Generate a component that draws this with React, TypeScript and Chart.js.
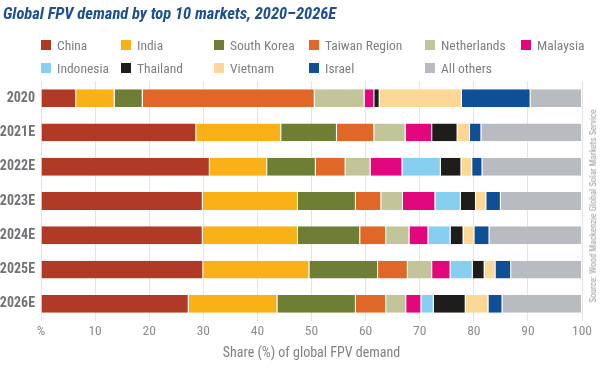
import React, { useEffect, useRef } from "react";
import { Chart, registerables } from "chart.js";

Chart.register(...registerables);

const categories = ["2020", "2021E", "2022E", "2023E", "2024E", "2025E", "2026E"];
const tickLabels = ["%", "10", "20", "30", "40", "50", "60", "70", "80", "90", "100"];

const china = [6.5, 28.7, 31.2, 29.9, 29.9, 30.0, 27.3];
const india = [7.1, 15.7, 10.6, 17.6, 17.6, 19.6, 16.4];
const southKorea = [5.2, 10.3, 9.0, 10.7, 11.5, 12.7, 14.5];
const taiwanRegion = [31.8, 6.9, 5.5, 4.7, 4.8, 5.5, 5.6];
const netherlands = [9.2, 5.8, 4.6, 4.0, 4.3, 4.5, 3.7];
const malaysia = [1.8, 4.9, 5.9, 6.0, 3.5, 3.4, 2.8];
const indonesia = [0, 0, 7.1, 4.7, 4.1, 4.1, 2.3];
const thailand = [1.0, 4.7, 3.8, 2.8, 2.4, 2.2, 5.9];
const vietnam = [15.2, 2.3, 2.0, 1.9, 2.0, 2.0, 4.2];
const israel = [12.7, 2.1, 1.9, 2.7, 2.8, 2.9, 2.6];
const allOthers = [9.5, 18.6, 18.4, 15.0, 17.1, 13.1, 14.7];

const seriesNames = [
  "China", "India", "South Korea", "Taiwan Region", "Netherlands", "Malaysia",
  "Indonesia", "Thailand", "Vietnam", "Israel", "All others",
];
const seriesValues = [
  china, india, southKorea, taiwanRegion, netherlands, malaysia,
  indonesia, thailand, vietnam, israel, allOthers,
];
const seriesColors = [
  "#B03A26", "#F9B117", "#6E7F35", "#E06727", "#C2C49A", "#E2077D",
  "#86CFF0", "#1E1D1B", "#FDD796", "#0F4F96", "#B8BCC1",
];

// legend layout: [seriesIndex, left, centerY]
const legendLayout: [number, number, number][] = [
  [0, 41, 45], [1, 121, 45], [2, 214, 45], [3, 309, 45], [4, 425, 45], [5, 521, 45],
  [6, 41, 68], [7, 121, 68], [8, 214, 68], [9, 309, 68], [10, 425, 68],
];

const FONT = '"Roboto Condensed", "Liberation Sans Narrow", sans-serif';

export default function App() {
  const canvasRef = useRef<HTMLCanvasElement | null>(null);

  useEffect(() => {
    document.body.style.margin = "0";
    const canvas = canvasRef.current;
    if (!canvas) return;
    const chart = new Chart(canvas, {
      type: "bar",
      data: {
        labels: categories,
        datasets: seriesNames.map((name, i) => ({
          label: name,
          data: seriesValues[i],
          backgroundColor: seriesColors[i],
          borderColor: "#ffffff",
          borderWidth: { top: 0, bottom: 0, left: 0, right: 1 },
          borderSkipped: false,
          categoryPercentage: 1,
          barPercentage: 0.52,
        })),
      },
      options: {
        responsive: false,
        animation: false,
        indexAxis: "y",
        layout: { padding: { top: 81, right: 18, left: 0, bottom: 19 } },
        plugins: {
          legend: { display: false },
          title: { display: false },
          tooltip: { enabled: false },
        },
        scales: {
          x: {
            stacked: true,
            min: 0,
            max: 100,
            ticks: {
              stepSize: 10,
              padding: 3,
              color: "#8A8C8F",
              font: { family: FONT, size: 13.5 },
              callback: (v: any) => tickLabels[Math.round(Number(v) / 10)],
            },
            grid: { color: "#E4E4E4", drawTicks: false, lineWidth: 1 },
            border: { display: false },
            title: {
              display: true,
              text: "Share (%) of global FPV demand",
              color: "#808285",
              font: { family: FONT, size: 14 },
              padding: { top: 2, bottom: 0 },
            },
            afterFit: (s: any) => { s.height = 41; },
          },
          y: {
            stacked: true,
            ticks: {
              padding: 6,
              color: "#707275",
              font: { family: FONT, size: 14, weight: "bold" },
            },
            grid: { display: false, drawTicks: false },
            border: { display: false },
            afterFit: (s: any) => { s.width = 41; },
          },
        },
      },
    });
    return () => chart.destroy();
  }, []);

  return (
    <div style={{ position: "fixed", left: 0, top: 0, width: 600, height: 381, background: "#fff", overflow: "hidden" }}>
      <canvas ref={canvasRef} width={600} height={381} style={{ position: "absolute", left: 0, top: 0, width: 600, height: 381 }} />
      <div
        style={{
          position: "absolute", left: 3, top: 4, fontFamily: FONT, fontSize: 16.5,
          fontWeight: "bold", fontStyle: "italic", color: "#1D4F91", whiteSpace: "nowrap", lineHeight: "20px",
        }}
      >
        Global FPV demand by top 10 markets, 2020–2026E
      </div>
      {legendLayout.map(([idx, left, cy]) => (
        <div key={idx} style={{ position: "absolute", left, top: cy - 8, height: 16, display: "flex", alignItems: "center", whiteSpace: "nowrap" }}>
          <span style={{ display: "inline-block", width: 10, height: 10, background: seriesColors[idx], marginRight: 6 }} />
          <span style={{ fontFamily: FONT, fontSize: 13.5, color: "#7D7F83", lineHeight: "16px" }}>{seriesNames[idx]}</span>
        </div>
      ))}
      <div
        style={{
          position: "absolute", left: 593, top: 206, transform: "translate(-50%, -50%) rotate(-90deg)",
          fontFamily: FONT, fontSize: 9, color: "#9A9C9F", whiteSpace: "nowrap",
        }}
      >
        Source: Wood Mackenzie Global Solar Markets Service
      </div>
    </div>
  );
}
